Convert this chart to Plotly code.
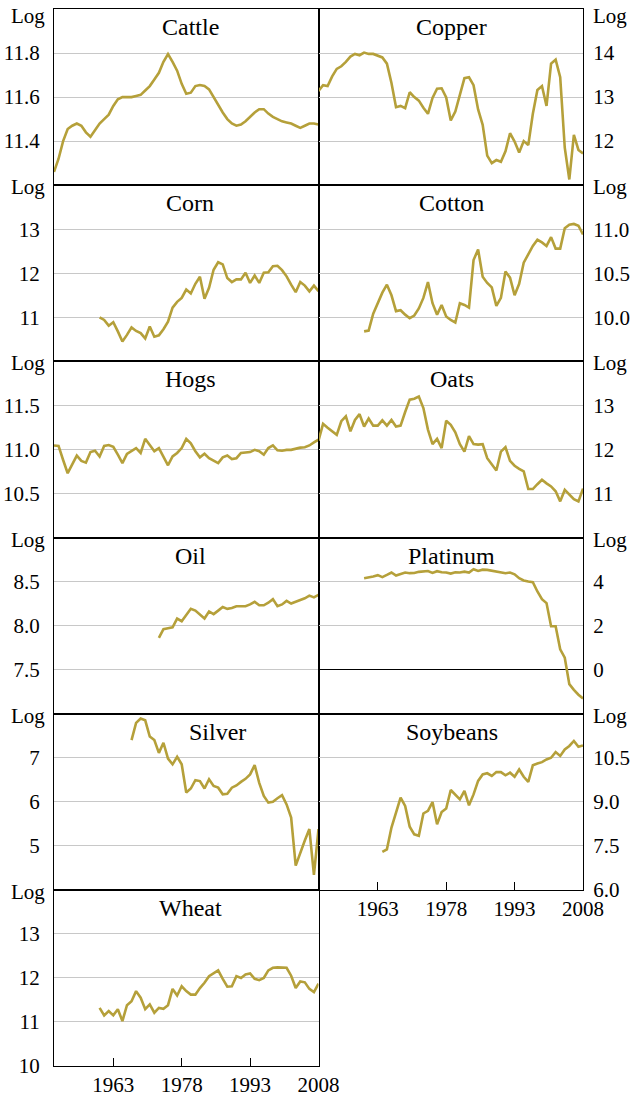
import plotly.graph_objects as go
from plotly.subplots import make_subplots

GOLD = "#B5A03A"
FONT = "'Liberation Serif', 'DejaVu Serif', 'Times New Roman', serif"
LAST_YEAR = 2008

# log prices, one value per year up to 2008
cattle_start = 1950
cattle = [11.26, 11.32, 11.40, 11.455, 11.47, 11.48, 11.47, 11.44, 11.42, 11.45,
          11.48, 11.50, 11.52, 11.56, 11.59, 11.60, 11.60, 11.60, 11.605, 11.61,
          11.63, 11.65, 11.68, 11.71, 11.76, 11.795, 11.76, 11.72, 11.66, 11.615,
          11.62, 11.65, 11.655, 11.65, 11.635, 11.60, 11.56, 11.53, 11.50, 11.48,
          11.47, 11.475, 11.49, 11.51, 11.53, 11.545, 11.545, 11.525, 11.51, 11.50,
          11.49, 11.485, 11.48, 11.47, 11.46, 11.47, 11.48, 11.48, 11.475]

copper_start = 1950
copper = [13.14, 13.27, 13.25, 13.47, 13.64, 13.70, 13.80, 13.92, 13.98, 13.95,
          14.01, 13.98, 13.98, 13.94, 13.90, 13.76, 13.32, 12.77, 12.80, 12.75,
          13.11, 13.00, 12.92, 12.76, 12.62, 12.98, 13.19, 13.20, 12.99, 12.47,
          12.67, 13.05, 13.43, 13.45, 13.27, 12.72, 12.37, 11.67, 11.50, 11.57,
          11.53, 11.77, 12.18, 11.99, 11.74, 12.00, 11.91, 12.62, 13.16, 13.25,
          12.80, 13.76, 13.85, 13.45, 11.85, 11.13, 12.14, 11.80, 11.72]

corn_start = 1960
corn = [11.00, 10.94, 10.81, 10.89, 10.68, 10.45, 10.60, 10.77, 10.69, 10.64,
        10.52, 10.79, 10.56, 10.59, 10.73, 10.90, 11.22, 11.35, 11.44, 11.63,
        11.54, 11.76, 11.92, 11.42, 11.67, 12.08, 12.25, 12.20, 11.89, 11.80,
        11.86, 11.86, 12.01, 11.78, 11.95, 11.78, 12.01, 12.02, 12.16, 12.17,
        12.07, 11.93, 11.74, 11.57, 11.80, 11.72, 11.59, 11.72, 11.59]

cotton_start = 1960
cotton = [9.84, 9.85, 10.04, 10.17, 10.28, 10.37, 10.25, 10.07, 10.08, 10.03,
          9.99, 10.02, 10.10, 10.22, 10.40, 10.16, 10.03, 10.14, 10.01, 9.97,
          9.94, 10.16, 10.14, 10.11, 10.65, 10.77, 10.46, 10.39, 10.34, 10.13,
          10.22, 10.52, 10.45, 10.25, 10.38, 10.62, 10.71, 10.81, 10.88, 10.85,
          10.81, 10.91, 10.78, 10.78, 11.01, 11.05, 11.06, 11.04, 10.94]

hogs_start = 1950
hogs = [11.045, 11.04, 10.88, 10.73, 10.83, 10.93, 10.87, 10.85, 10.97, 10.985,
        10.92, 11.04, 11.05, 11.03, 10.94, 10.845, 10.95, 10.98, 11.015, 10.96,
        11.12, 11.05, 10.98, 11.015, 10.92, 10.82, 10.92, 10.96, 11.015, 11.12,
        11.07, 10.98, 10.91, 10.95, 10.90, 10.87, 10.845, 10.91, 10.93, 10.89,
        10.90, 10.96, 10.965, 10.97, 10.995, 10.98, 10.94, 11.015, 11.045, 10.99,
        10.985, 10.995, 10.995, 11.01, 11.02, 11.025, 11.045, 11.08, 11.11]

oats_start = 1950
oats = [12.20, 12.58, 12.49, 12.41, 12.33, 12.64, 12.75, 12.41, 12.67, 12.80,
        12.52, 12.70, 12.54, 12.54, 12.66, 12.54, 12.67, 12.52, 12.54, 12.85,
        13.13, 13.15, 13.20, 12.94, 12.45, 12.12, 12.24, 12.03, 12.65, 12.56,
        12.39, 12.12, 11.95, 12.30, 12.12, 12.11, 12.12, 11.80, 11.65, 11.52,
        11.95, 12.05, 11.74, 11.63, 11.56, 11.50, 11.10, 11.10, 11.21, 11.31,
        11.23, 11.16, 11.05, 10.82, 11.08, 10.97, 10.87, 10.82, 11.11]

oil_start = 1973
oil = [7.86, 7.96, 7.97, 7.98, 8.08, 8.05, 8.12, 8.19, 8.17, 8.12,
       8.08, 8.16, 8.13, 8.17, 8.21, 8.19, 8.20, 8.22, 8.22, 8.22,
       8.24, 8.27, 8.23, 8.23, 8.26, 8.30, 8.22, 8.24, 8.28, 8.25,
       8.27, 8.29, 8.31, 8.34, 8.32, 8.35]

platinum_start = 1960
platinum = [4.15, 4.18, 4.23, 4.29, 4.20, 4.30, 4.41, 4.27, 4.33, 4.41,
            4.38, 4.39, 4.44, 4.47, 4.48, 4.39, 4.47, 4.42, 4.41, 4.36,
            4.42, 4.41, 4.45, 4.41, 4.56, 4.48, 4.54, 4.53, 4.50, 4.45,
            4.42, 4.38, 4.41, 4.33, 4.15, 4.05, 4.00, 3.97, 3.55, 3.20,
            3.02, 1.97, 1.97, 0.92, 0.54, -0.66, -0.92, -1.14, -1.31]

silver_start = 1967
silver = [7.40, 7.79, 7.89, 7.85, 7.48, 7.40, 7.11, 7.34, 6.98, 6.85,
          7.02, 6.85, 6.21, 6.30, 6.49, 6.47, 6.30, 6.51, 6.36, 6.32,
          6.17, 6.18, 6.32, 6.37, 6.45, 6.52, 6.62, 6.83, 6.43, 6.13,
          5.98, 6.00, 6.08, 6.15, 5.94, 5.64, 4.55, 4.85, 5.12, 5.38,
          4.34, 5.38]

soybeans_start = 1964
soybeans = [7.29, 7.38, 8.12, 8.65, 9.14, 8.86, 8.15, 7.89, 7.84, 8.60,
            8.69, 8.99, 8.23, 8.65, 8.77, 9.40, 9.25, 9.08, 9.37, 8.88,
            9.25, 9.71, 9.93, 9.97, 9.88, 10.01, 10.01, 9.90, 9.99, 9.85,
            10.10, 9.85, 9.68, 10.24, 10.30, 10.35, 10.44, 10.50, 10.69, 10.56,
            10.78, 10.90, 11.07, 10.87, 10.92]

wheat_start = 1960
wheat = [11.32, 11.15, 11.25, 11.15, 11.29, 11.02, 11.38, 11.47, 11.70, 11.55,
         11.29, 11.40, 11.21, 11.32, 11.30, 11.38, 11.75, 11.60, 11.81, 11.70,
         11.62, 11.62, 11.77, 11.89, 12.04, 12.10, 12.17, 11.98, 11.80, 11.81,
         12.04, 12.00, 12.08, 12.10, 11.98, 11.95, 12.00, 12.17, 12.23, 12.24,
         12.24, 12.23, 12.05, 11.77, 11.92, 11.90, 11.75, 11.68, 11.87]

x_ticks = [1963, 1978, 1993, 2008]

# name, values, first year, row, col
series = [
    ("Cattle", cattle, cattle_start, 1, 1),
    ("Copper", copper, copper_start, 1, 2),
    ("Corn", corn, corn_start, 2, 1),
    ("Cotton", cotton, cotton_start, 2, 2),
    ("Hogs", hogs, hogs_start, 3, 1),
    ("Oats", oats, oats_start, 3, 2),
    ("Oil", oil, oil_start, 4, 1),
    ("Platinum", platinum, platinum_start, 4, 2),
    ("Silver", silver, silver_start, 5, 1),
    ("Soybeans", soybeans, soybeans_start, 5, 2),
    ("Wheat", wheat, wheat_start, 6, 1),
]

# y axis settings per panel: range, ticks, format
y_axes = {
    "Cattle": ([11.2, 12.0], [11.4, 11.6, 11.8], ".1f"),
    "Copper": ([11, 15], [12, 13, 14], "d"),
    "Corn": ([10, 14], [11, 12, 13], "d"),
    "Cotton": ([9.5, 11.5], [10.0, 10.5, 11.0], ".1f"),
    "Hogs": ([10.0, 12.0], [10.5, 11.0, 11.5], ".1f"),
    "Oats": ([10, 14], [11, 12, 13], "d"),
    "Oil": ([7.0, 9.0], [7.5, 8.0, 8.5], ".1f"),
    "Platinum": ([-2, 6], [0, 2, 4], "d"),
    "Silver": ([4, 8], [5, 6, 7], "d"),
    "Soybeans": ([6.0, 12.0], [6.0, 7.5, 9.0, 10.5], ".1f"),
    "Wheat": ([10, 14], [10, 11, 12, 13], "d"),
}

fig = make_subplots(rows=6, cols=2, horizontal_spacing=0, vertical_spacing=0,
                    specs=[[{}, {}]] * 5 + [[{}, None]])

for name, vals, start, row, col in series:
    years = list(range(start, LAST_YEAR + 1))
    fig.add_trace(go.Scatter(x=years, y=vals, mode="lines",
                             line=dict(color=GOLD, width=2.6),
                             showlegend=False, hoverinfo="skip"),
                  row=row, col=col)

    yr, yt, fmt = y_axes[name]
    fig.update_yaxes(range=yr, tickvals=yt, tickformat=fmt,
                     side="left" if col == 1 else "right",
                     showgrid=True, gridcolor="#c8c8c8", gridwidth=1,
                     zeroline=(name == "Platinum"), zerolinecolor="black",
                     zerolinewidth=1.3,
                     showline=True, mirror=True, linecolor="black", linewidth=1.2,
                     ticks="", ticklabelstandoff=9 if col == 1 else 5,
                     automargin=False,
                     tickfont=dict(family=FONT, size=21, color="black"),
                     row=row, col=col)

    n = (row - 1) * 2 + col
    xref = "x domain" if n == 1 else f"x{n} domain"
    yref = "y domain" if n == 1 else f"y{n} domain"

    shift = 4 if col == 1 else 1
    if name == "Silver":
        shift = 31
    fig.add_annotation(text=name, xref=xref, yref=yref, x=0.5, y=1,
                       xanchor="center", yanchor="middle", xshift=shift, yshift=-18,
                       showarrow=False,
                       font=dict(family=FONT, size=24, color="black"))

    fig.add_annotation(text="Log", xref=xref, yref=yref,
                       x=0 if col == 1 else 1, y=1,
                       xanchor="right" if col == 1 else "left",
                       xshift=-7 if col == 1 else 8,
                       yanchor="top" if row == 1 else "middle",
                       yshift=7 if row == 1 else -2,
                       showarrow=False,
                       font=dict(family=FONT, size=21, color="black"))

fig.update_xaxes(range=[1950, LAST_YEAR], tickvals=x_ticks, showgrid=False,
                 zeroline=False, showline=True, mirror=True, linecolor="black",
                 linewidth=1.2, showticklabels=False, ticks="", automargin=False)

for row, col in [(6, 1), (5, 2)]:
    fig.update_xaxes(showticklabels=True, ticks="inside", ticklen=8,
                     tickwidth=1.3, tickcolor="black", ticklabelstandoff=0,
                     tickfont=dict(family=FONT, size=21, color="black"),
                     row=row, col=col)

fig.update_layout(width=635, height=1097,
                  margin=dict(l=54, r=52, t=9, b=31, autoexpand=False),
                  paper_bgcolor="white", plot_bgcolor="white",
                  font=dict(family=FONT, color="black"))

# drop the page's default body margin so the figure sits in the corner
fig.write_html("out.html", config={"displayModeBar": False},
               post_script="document.body.style.margin = '0';")
